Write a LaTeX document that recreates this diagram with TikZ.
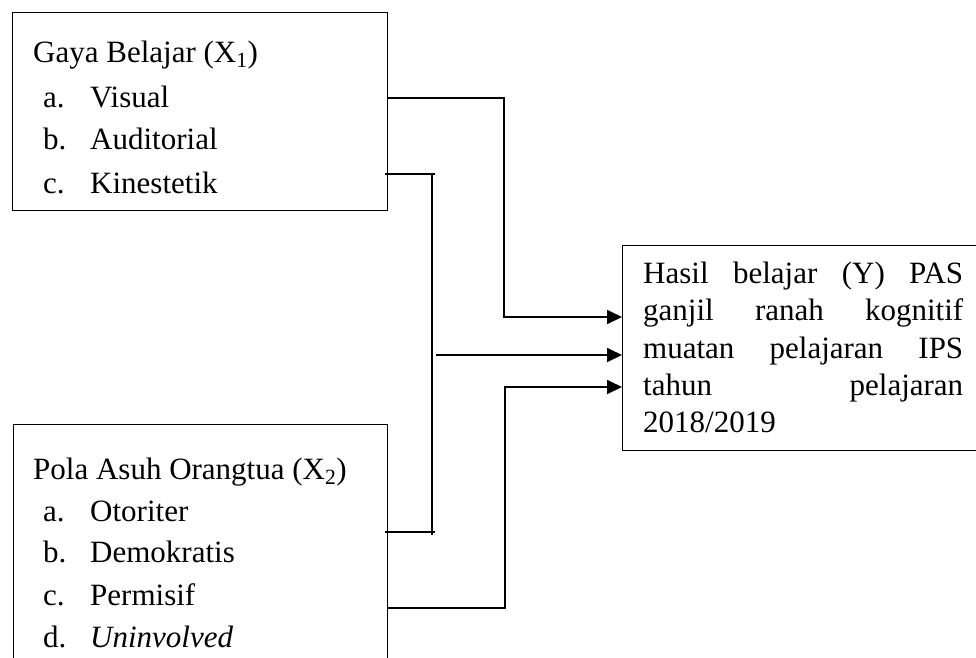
\documentclass[tikz,border=0pt]{standalone}
\usepackage{fontspec}
\setmainfont{Liberation Serif}
\usetikzlibrary{arrows.meta}
\begin{document}
\begin{tikzpicture}[x=1pt,y=-1pt,
  txt/.style={anchor=base west,inner sep=0pt,font=\fontsize{31}{37}\selectfont},
  jline/.style={txt,text width=320pt,align=justify},
  frame/.style={draw,line width=1.4pt,anchor=north west,inner sep=0pt},
  conn/.style={line width=1.8pt},
  arr/.style={conn,-{Triangle[length=15pt,width=14pt]}},
  thinline/.style={line width=1.4pt}]
\useasboundingbox (0,0) rectangle (976,657);
\clip (0,0) rectangle (976,657);
% boxes
\node[frame,minimum width=375pt,minimum height=198pt] (box1) at (12,12) {};
\node[frame,minimum width=374pt,minimum height=280pt] (box2) at (13,424) {};
\node[frame,minimum width=420pt,minimum height=205pt] (hasil) at (622,245) {};
% box 1 text
\node[txt] (t1) at (33,62) {Gaya Belajar (X\textsubscript{1})};
\node[txt] (l1a) at (43,107) {a.};
\node[txt] (i1a) at (90,107) {Visual};
\node[txt] (l1b) at (43,149) {b.};
\node[txt] (i1b) at (90,149) {Auditorial};
\node[txt] (l1c) at (43,193) {c.};
\node[txt] (i1c) at (90,193) {Kinestetik};
% box 2 text
\node[txt] (t2) at (33,479) {Pola Asuh Orangtua (X\textsubscript{2})};
\node[txt] (l2a) at (43,521) {a.};
\node[txt] (i2a) at (90,521) {Otoriter};
\node[txt] (l2b) at (43,562) {b.};
\node[txt] (i2b) at (90,562) {Demokratis};
\node[txt] (l2c) at (43,605) {c.};
\node[txt] (i2c) at (90,605) {Permisif};
\node[txt] (l2d) at (43,647) {d.};
\node[txt] (i2d) at (90,647) {\textit{Uninvolved}};
% right box text
\node[txt] (y1) at (643,283) {\makebox[320pt][s]{Hasil belajar (Y) PAS}};
\node[txt] (y2) at (643,320) {\makebox[320pt][s]{ganjil ranah kognitif}};
\node[txt] (y3) at (643,358) {\makebox[320pt][s]{muatan pelajaran IPS}};
\node[txt] (y4) at (643,395) {\makebox[320pt][s]{tahun pelajaran}};
\node[txt] (y5) at (643,432) {2018/2019};
% helper coordinates
\coordinate (y98) at (0,98);
\coordinate (y317) at (0,317);
\coordinate (y355) at (0,355);
\coordinate (y387) at (0,387);
\coordinate (y608) at (0,608);
\coordinate (x504) at (504,0);
\coordinate (x505) at (505,0);
\coordinate (bt) at (432,174);
\coordinate (bb) at (432,535);
\coordinate (btl) at (385,174);
\coordinate (btr) at (435,174);
\coordinate (bbl) at (385,532);
\coordinate (bbr) at (435,532);
\coordinate (mid) at (436,355);
% connectors
\draw[arr] (box1.east |- y98) -- (x504 |- y98) -- (x504 |- y317) -- (hasil.west |- y317);
\draw[thinline] (btl) -- (btr);
\draw[thinline] (bbl) -- (bbr);
\draw[thinline] (bt) -- (bb);
\draw[arr] (mid) -- (hasil.west |- y355);
\draw[arr] (box2.east |- y608) -- (x505 |- y608) -- (x505 |- y387) -- (hasil.west |- y387);
\end{tikzpicture}
\end{document}
